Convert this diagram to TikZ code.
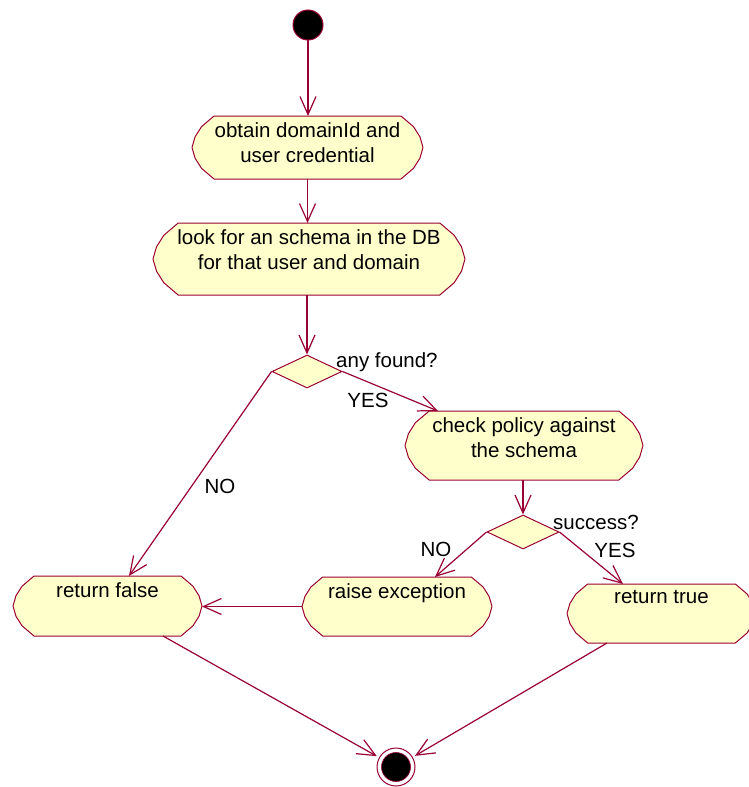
\documentclass[tikz,border=0pt]{standalone}
\usepackage{fontspec}
\setmainfont{Liberation Sans}
\usetikzlibrary{arrows.meta,shapes.geometric,calc,backgrounds}
\definecolor{crim}{RGB}{153,0,51}
\definecolor{actfill}{RGB}{255,255,204}
\newcommand\diafont{\fontsize{20.5bp}{25bp}\selectfont}
\begin{document}
\begin{tikzpicture}[x=1bp,y=-1bp,
  flow/.style={draw=crim,line width=1.2bp,-{Straight Barb[length=18bp,width=16bp]}},
  action/.style={rectangle,inner sep=0pt,outer sep=0pt},
  acttext/.style={anchor=north,inner sep=0pt,yshift=-6bp,align=center,font=\diafont},
  actshape/.style={fill=actfill,draw=crim,line width=1bp,line join=round},
  decision/.style={diamond,fill=actfill,draw=crim,line width=1bp,inner sep=0pt},
  guard/.style={font=\diafont,inner sep=0pt},
  initial/.style={circle,fill=black,draw=crim,line width=1bp,minimum size=30bp,inner sep=0pt},
  final/.style={circle,draw=crim,line width=1bp,minimum size=38bp,inner sep=0pt,outer sep=3bp},
]
\useasboundingbox (0,0) rectangle (749,787);

% initial state
\node[initial] (start) at (308,25) {};

% activities
\node[action,minimum width=231bp,minimum height=63bp,
  label={[acttext]north:{obtain domainId and\\user credential}}] (obtain) at (307.5,147.5) {};
\node[action,minimum width=312bp,minimum height=72bp,
  label={[acttext]north:{look for an schema in the DB\\for that user and domain}}] (look) at (309,259) {};
\node[action,minimum width=238bp,minimum height=69bp,
  label={[acttext]north:{check policy against\\the schema}}] (check) at (524,445.5) {};
\node[action,minimum width=189bp,minimum height=60bp,
  label={[acttext]north:{return false}}] (rfalse) at (107.5,606) {};
\node[action,minimum width=190bp,minimum height=59bp,
  label={[acttext]north:{raise exception}}] (raise) at (397,606.5) {};
\node[action,minimum width=189bp,minimum height=59bp,
  label={[acttext]north:{return true}}] (rtrue) at (661.5,613.5) {};

% decisions
\node[decision,minimum width=70bp,minimum height=33bp] (d1) at (307,371.5) {};
\node[decision,minimum width=72bp,minimum height=34bp] (d2) at (523,532) {};

% final state
\node[final] (end) at (396,767) {};
\fill[black,draw=crim,line width=0.6bp] (end.center) circle (14.5bp);

% activity outlines, drawn behind the texts
\begin{scope}[on background layer]
\fill[white] (0,0) rectangle (749,787);
\foreach \bx in {obtain,look,check,rfalse,raise,rtrue}{
  \path[actshape] let \p1=(\bx.north west), \p2=(\bx.south east),
      \n1={\y1-\y2}, \n2={0.35*(\y1-\y2)}, \n3={(\y1+\y2)/2} in
    (\x1+\n2,\y1) -- (\x2-\n2,\y1)
    -- (\x2-0.43*\n2,\y1-0.17*\n1) -- (\x2-0.14*\n2,\y1-0.33*\n1)
    -- (\x2,\n3)
    -- (\x2-0.14*\n2,\y2+0.33*\n1) -- (\x2-0.43*\n2,\y2+0.17*\n1)
    -- (\x2-\n2,\y2) -- (\x1+\n2,\y2)
    -- (\x1+0.43*\n2,\y2+0.17*\n1) -- (\x1+0.14*\n2,\y2+0.33*\n1)
    -- (\x1,\n3)
    -- (\x1+0.14*\n2,\y1-0.33*\n1) -- (\x1+0.43*\n2,\y1-0.17*\n1)
    -- cycle;
}
\end{scope}

% guards
\node[guard,anchor=west] (g1) at (336,362) {any found?};
\node[guard] (g2) at (368,400) {YES};
\node[guard] (g3) at (220,486) {NO};
\node[guard,anchor=west] (g4) at (553,522) {success?};
\node[guard] (g5) at (436,549) {NO};
\node[guard] (g6) at (615,550) {YES};

% transitions
\draw[flow] (start) -- (start |- obtain.north);
\draw[flow] (obtain.south) -- (obtain.south |- look.north);
\draw[flow] (look.south -| d1.north) -- (d1.north);
\draw[flow] (d1.east) -- ([xshift=33bp]check.north west);
\draw[flow] (d1.west) -- ([xshift=116bp]rfalse.north west);
\draw[flow] (check.south -| d2.north) -- (d2.north);
\draw[flow] (d2.east) -- ([xshift=56bp]rtrue.north west);
\draw[flow] (d2.west) -- ([xshift=133bp]raise.north west);
\draw[flow] (raise.west) -- (raise.west -| rfalse.east);
\draw[flow] ([xshift=150bp]rfalse.south west) -- (end);
\draw[flow] ([xshift=40bp]rtrue.south west) -- (end);
\end{tikzpicture}
\end{document}
